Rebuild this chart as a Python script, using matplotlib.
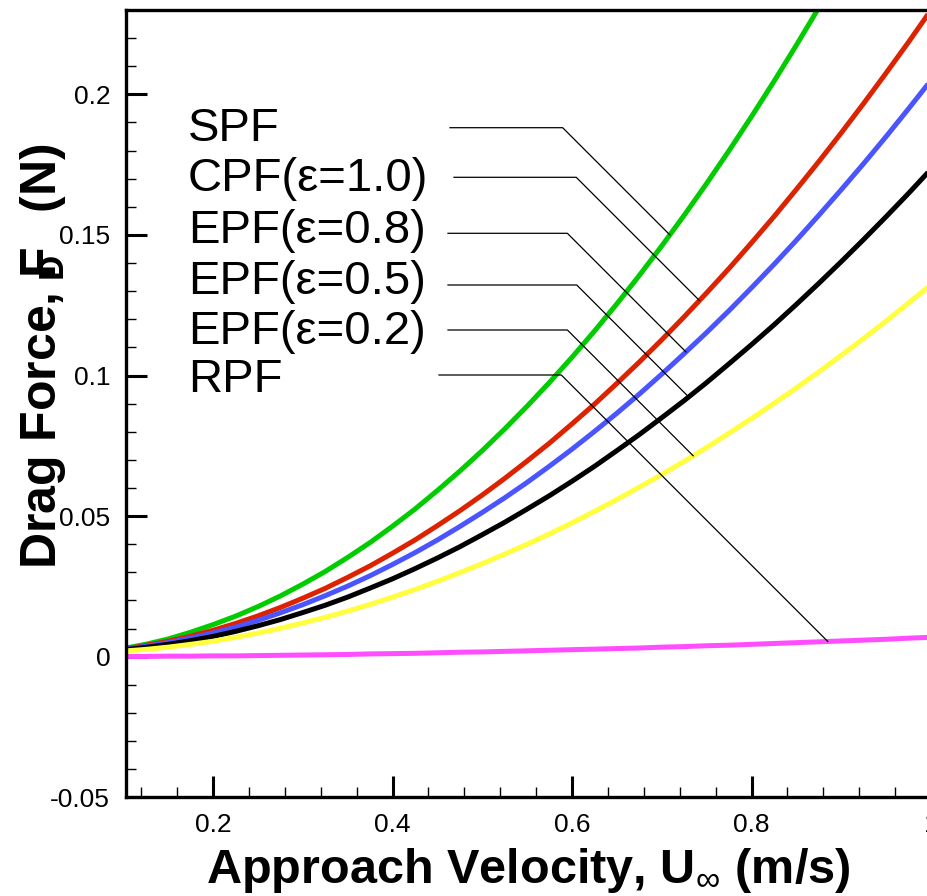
import numpy as np
import matplotlib
matplotlib.use('Agg')
import matplotlib.pyplot as plt
from matplotlib.lines import Line2D
from matplotlib.transforms import IdentityTransform

plt.rcParams['font.family'] = ['Liberation Sans', 'DejaVu Sans']
plt.rcParams['mathtext.fontset'] = 'custom'
plt.rcParams['mathtext.rm'] = 'Liberation Sans'
plt.rcParams['mathtext.bf'] = 'Liberation Sans:bold'
plt.rcParams['mathtext.it'] = 'Liberation Sans:italic'

# approach velocity (m/s)
u = [0.100, 0.125, 0.150, 0.175, 0.200, 0.225, 0.250, 0.275, 0.300, 0.325,
     0.350, 0.375, 0.400, 0.425, 0.450, 0.475, 0.500, 0.525, 0.550, 0.575,
     0.600, 0.625, 0.650, 0.675, 0.700, 0.725, 0.750, 0.775, 0.800, 0.825,
     0.850, 0.875, 0.900, 0.925, 0.950, 0.975, 1.000]

# drag force (N)
spf = [0.0029, 0.0044, 0.0063, 0.0087, 0.0114, 0.0144, 0.0178, 0.0216,
       0.0258, 0.0303, 0.0353, 0.0406, 0.0464, 0.0525, 0.0591, 0.0660,
       0.0733, 0.0810, 0.0891, 0.0976, 0.1065, 0.1158, 0.1255, 0.1356,
       0.1461, 0.1570, 0.1683, 0.1800, 0.1921, 0.2046, 0.2175, 0.2308,
       0.2445, 0.2587, 0.2732, 0.2881, 0.3035]
cpf = [0.0027, 0.0040, 0.0055, 0.0073, 0.0094, 0.0118, 0.0145, 0.0175,
       0.0208, 0.0243, 0.0282, 0.0323, 0.0368, 0.0415, 0.0466, 0.0519,
       0.0575, 0.0634, 0.0696, 0.0760, 0.0828, 0.0898, 0.0972, 0.1048,
       0.1127, 0.1209, 0.1294, 0.1381, 0.1472, 0.1565, 0.1662, 0.1761,
       0.1863, 0.1968, 0.2076, 0.2186, 0.2300]
epf08 = [0.0026, 0.0037, 0.0050, 0.0066, 0.0084, 0.0105, 0.0129, 0.0156,
         0.0185, 0.0217, 0.0251, 0.0288, 0.0328, 0.0370, 0.0415, 0.0463,
         0.0513, 0.0565, 0.0620, 0.0678, 0.0738, 0.0801, 0.0866, 0.0934,
         0.1005, 0.1078, 0.1153, 0.1231, 0.1312, 0.1395, 0.1481, 0.1570,
         0.1661, 0.1754, 0.1850, 0.1949, 0.2050]
epf05 = [0.0024, 0.0033, 0.0044, 0.0057, 0.0072, 0.0090, 0.0110, 0.0132,
         0.0157, 0.0183, 0.0212, 0.0244, 0.0277, 0.0313, 0.0351, 0.0391,
         0.0434, 0.0478, 0.0525, 0.0573, 0.0624, 0.0677, 0.0733, 0.0790,
         0.0850, 0.0911, 0.0975, 0.1042, 0.1110, 0.1180, 0.1253, 0.1328,
         0.1405, 0.1484, 0.1565, 0.1648, 0.1734]
epf02 = [0.0020, 0.0026, 0.0034, 0.0044, 0.0055, 0.0069, 0.0084, 0.0101,
         0.0120, 0.0140, 0.0162, 0.0186, 0.0212, 0.0239, 0.0268, 0.0299,
         0.0331, 0.0365, 0.0400, 0.0437, 0.0476, 0.0517, 0.0559, 0.0603,
         0.0648, 0.0695, 0.0744, 0.0795, 0.0847, 0.0901, 0.0956, 0.1013,
         0.1072, 0.1132, 0.1194, 0.1258, 0.1323]
rpf = [0.0001, 0.0001, 0.0002, 0.0002, 0.0003, 0.0003, 0.0004, 0.0005,
       0.0006, 0.0007, 0.0008, 0.0010, 0.0011, 0.0012, 0.0014, 0.0016,
       0.0017, 0.0019, 0.0021, 0.0023, 0.0025, 0.0027, 0.0029, 0.0031,
       0.0034, 0.0036, 0.0039, 0.0041, 0.0044, 0.0047, 0.0050, 0.0053,
       0.0056, 0.0059, 0.0062, 0.0066, 0.0069]

names = ['SPF', 'CPF(ε=1.0)', 'EPF(ε=0.8)', 'EPF(ε=0.5)', 'EPF(ε=0.2)', 'RPF']
series = [spf, cpf, epf08, epf05, epf02, rpf]
colors = ['#00cc00', '#dd2200', '#4a55ff', '#000000', '#ffff40', '#ff4dff']

W, H = 927, 896
fig = plt.figure(figsize=(W / 100, H / 100), dpi=100)
ax = fig.add_axes([125.5 / W, 1 - 797.3 / H, (931 - 125.5) / W, (797.3 - 10) / H])

for ys, c in zip(series, colors):
    ax.plot(u, ys, color=c, lw=3.6, solid_capstyle='butt', zorder=2)

ax.set_xlim(0.1025, 1.0)
ax.set_ylim(-0.05, 0.23)
ax.set_xticks([0.2, 0.4, 0.6, 0.8, 1.0])
ax.set_xticklabels(['0.2', '0.4', '0.6', '0.8', '1'])
ax.set_xticks(np.arange(0.12, 1.0, 0.04), minor=True)
ax.set_yticks([-0.05, 0, 0.05, 0.1, 0.15, 0.2])
ax.set_yticklabels(['-0.05', '0', '0.05', '0.1', '0.15', '0.2'])
ax.set_yticks(np.arange(-0.04, 0.23, 0.01), minor=True)
ax.tick_params(which='both', direction='in', top=False, right=False,
               labelsize=19, pad=11)
ax.tick_params(which='major', length=15, width=2.2)
ax.tick_params(which='minor', length=7.5, width=1)
for s in ax.spines.values():
    s.set_linewidth(2.4)

fig.text(528 / W, 1 - 883 / H, 'Approach Velocity, U$_{\\infty}$ (m/s)',
         fontsize=35, fontweight='bold', ha='center', va='baseline')
fig.text(56 / W, 1 - 356 / H,
         'Drag Force, F$\\!\\!\\!\\!\\!_{\\mathbf{D}}$   (N)',
         fontsize=36, fontweight='bold', rotation=90, rotation_mode='anchor',
         ha='center', va='baseline')

# labels with leader lines (rows in pixels from top)
text_rows = [129, 179, 231, 282, 332, 380]
line_rows = [127.7, 177.3, 233.3, 285, 330, 375]
line_starts = [450, 454, 448, 448, 448, 439]
target_u = [0.709, 0.742, 0.727, 0.730, 0.735, 0.885]

for name, ys, tr, lr, ls, tu in zip(names, series, text_rows, line_rows,
                                    line_starts, target_u):
    fig.text(188 / W, 1 - tr / H, name, fontsize=34, va='center', ha='left')
    tx, ty = ax.transData.transform((tu, np.interp(tu, u, ys)))
    ry = H - lr
    ex = tx - (ry - ty)
    fig.add_artist(Line2D([ls, ex, tx], [ry, ry, ty], color='black', lw=0.9,
                          transform=IdentityTransform(), zorder=5))

fig.savefig('out.png', dpi=100)
